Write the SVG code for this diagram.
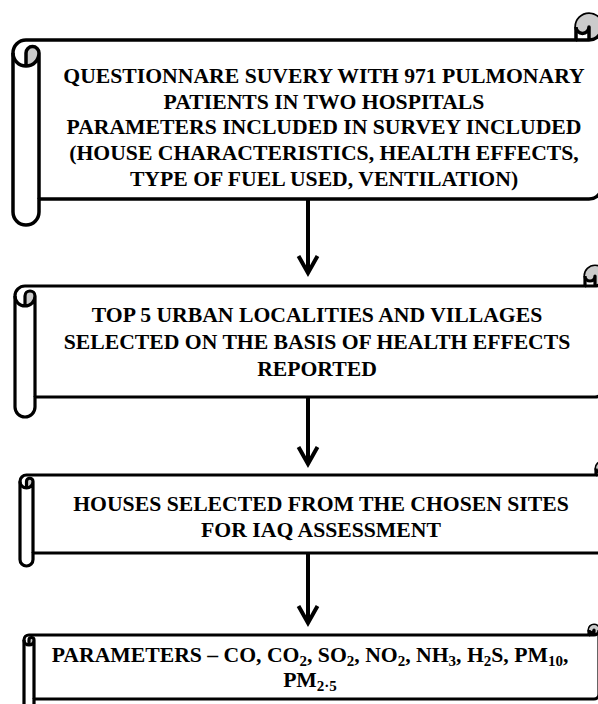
<svg xmlns="http://www.w3.org/2000/svg" width="598" height="704" viewBox="0 0 598 704">
<defs>
<style>
.body{fill:#fff;stroke:#000;stroke-width:3.2;stroke-linejoin:round}
.shade{fill:#cbcbcb;stroke:none}
.det{fill:none;stroke:#000;stroke-width:3.2;stroke-linejoin:round}
.t{font-family:"Liberation Serif","Times New Roman",serif;font-weight:bold;font-size:21.7px;fill:#000;text-anchor:middle}
.sub{font-size:15px}
.conn{fill:none;stroke:#000;stroke-width:4}
</style>
<marker id="arr" viewBox="-25 -15 30 30" markerWidth="30" markerHeight="30" refX="0" refY="0" orient="auto" markerUnits="userSpaceOnUse">
<path d="M-17,-9.5 L0,0 L-17,9.5" fill="none" stroke="#000" stroke-width="4" stroke-linejoin="miter"/>
</marker>
</defs>

<g id="connectors">
<path class="conn" d="M308,199 L308,273" marker-end="url(#arr)"/>
<path class="conn" d="M308,397 L308,464" marker-end="url(#arr)"/>
<path class="conn" d="M308,553 L308,623" marker-end="url(#arr)"/>
</g>

<g id="node1">
<path class="body" style="stroke-width:3.5" d="M13,53 A13,13 0 0 1 26,40 L576,40 L576,27 A13,13 0 0 1 602,27 L602,186 A13,13 0 0 1 589,199 L39,199 L39,212 A13,13 0 0 1 13,212 Z"/>
<path class="shade" d="M26,66 L26,53 A6.5,6.5 0 0 1 39,53 A13,13 0 0 1 26,66 Z"/>
<path class="shade" d="M589,40 A13,13 0 1 0 576,27 A6.5,6.5 0 0 0 589,27 Z"/>
<path class="det" style="stroke-width:3.5" d="M576,40 L589,40 A13,13 0 0 0 602,27 M589,40 L589,27 A6.5,6.5 0 0 1 576,27 M26,66 L26,53 A6.5,6.5 0 0 1 39,53 A13,13 0 0 1 13,53 M39,53 L39,199"/>
<text class="t" x="324" y="83">QUESTIONNARE SUVERY WITH 971 PULMONARY</text>
<text class="t" x="324" y="108.7">PATIENTS IN TWO HOSPITALS</text>
<text class="t" x="324" y="134.4">PARAMETERS INCLUDED IN SURVEY INCLUDED</text>
<text class="t" x="324" y="160.1">(HOUSE CHARACTERISTICS, HEALTH EFFECTS,</text>
<text class="t" x="324" y="185.8">TYPE OF FUEL USED, VENTILATION)</text>
</g>

<g id="node2">
<path class="body" d="M15,296 A10,10 0 0 1 25,286 L585,286 L585,276 A10,10 0 0 1 605,276 L605,387 A10,10 0 0 1 595,397 L35,397 L35,407 A10,10 0 0 1 15,407 Z"/>
<path class="shade" d="M25,306 L25,296 A5,5 0 0 1 35,296 A10,10 0 0 1 25,306 Z"/>
<path class="shade" d="M595,286 A10,10 0 1 0 585,276 A5,5 0 0 0 595,276 Z"/>
<path class="det" d="M585,286 L595,286 A10,10 0 0 0 605,276 M595,286 L595,276 A5,5 0 0 1 585,276 M25,306 L25,296 A5,5 0 0 1 35,296 A10,10 0 0 1 15,296 M35,296 L35,397"/>
<text class="t" x="317" y="322">TOP 5 URBAN LOCALITIES AND VILLAGES</text>
<text class="t" x="317" y="349">SELECTED ON THE BASIS OF HEALTH EFFECTS</text>
<text class="t" x="317" y="375.5">REPORTED</text>
</g>

<g id="node3">
<path class="body" d="M20,481.5 A6.5,6.5 0 0 1 26.5,475 L596,475 L596,468.5 A6.5,6.5 0 0 1 609,468.5 L609,546.5 A6.5,6.5 0 0 1 602.5,553 L33,553 L33,559.5 A6.5,6.5 0 0 1 20,559.5 Z"/>
<path class="shade" d="M26.5,488 L26.5,481.5 A3.25,3.25 0 0 1 33,481.5 A6.5,6.5 0 0 1 26.5,488 Z"/>
<path class="shade" d="M602.5,475 A6.5,6.5 0 1 0 596,468.5 A3.25,3.25 0 0 0 602.5,468.5 Z"/>
<path class="det" d="M596,475 L602.5,475 A6.5,6.5 0 0 0 609,468.5 M602.5,475 L602.5,468.5 A3.25,3.25 0 0 1 596,468.5 M26.5,488 L26.5,481.5 A3.25,3.25 0 0 1 33,481.5 A6.5,6.5 0 0 1 20,481.5 M33,481.5 L33,553"/>
<text class="t" x="321" y="511">HOUSES SELECTED FROM THE CHOSEN SITES</text>
<text class="t" x="321" y="537">FOR IAQ ASSESSMENT</text>
</g>

<g id="node4">
<path class="body" d="M24,640 A5,5 0 0 1 29,635 L589,635 L589,630 A5,5 0 0 1 599,630 L599,694 A5,5 0 0 1 594,699 L34,699 L34,704 A5,5 0 0 1 24,704 Z"/>
<path class="shade" d="M29,645 L29,640 A2.5,2.5 0 0 1 34,640 A5,5 0 0 1 29,645 Z"/>
<path class="shade" d="M594,635 A5,5 0 1 0 589,630 A2.5,2.5 0 0 0 594,630 Z"/>
<path class="det" d="M589,635 L594,635 A5,5 0 0 0 599,630 M594,635 L594,630 A2.5,2.5 0 0 1 589,630 M29,645 L29,640 A2.5,2.5 0 0 1 34,640 A5,5 0 0 1 24,640 M34,640 L34,699"/>
<text class="t" x="310" y="662">PARAMETERS – CO, CO<tspan class="sub" dy="4">2</tspan><tspan dy="-4">, SO</tspan><tspan class="sub" dy="4">2</tspan><tspan dy="-4">, NO</tspan><tspan class="sub" dy="4">2</tspan><tspan dy="-4">, NH</tspan><tspan class="sub" dy="4">3</tspan><tspan dy="-4">, H</tspan><tspan class="sub" dy="4">2</tspan><tspan dy="-4">S, PM</tspan><tspan class="sub" dy="4">10</tspan><tspan dy="-4">,</tspan></text>
<text class="t" x="310" y="687">PM<tspan class="sub" dy="4">2·5</tspan></text>
</g>
</svg>
